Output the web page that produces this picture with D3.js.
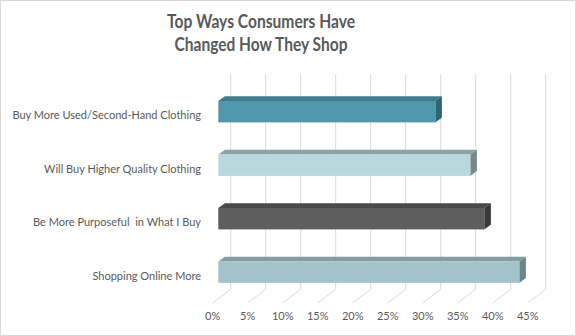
<!DOCTYPE html>
<html><head><meta charset="utf-8">
<script src="https://cdn.jsdelivr.net/npm/d3@7"></script>
<style>html,body{margin:0;padding:0;background:#fff;}svg{display:block;}</style>
</head><body>
<svg id="chart" width="576" height="336"></svg>
<script>
const titleLines = ["Top Ways Consumers Have", "Changed How They Shop"];
const categories = ["Buy More Used/Second-Hand Clothing", "Will Buy Higher Quality Clothing", "Be More Purposeful  in What I Buy", "Shopping Online More"];
const values = [31, 36, 38, 43];
const tickValues = [0, 5, 10, 15, 20, 25, 30, 35, 40, 45];
const frontColors = ["#4f97aa", "#b9d8de", "#5e5e5e", "#a3c4ca"];
const topColors = ["#3f7b8a", "#8ca2a6", "#4a4a4a", "#809da1"];
const sideColors = ["#2f6572", "#78898c", "#383838", "#6b868a"];

const svg = d3.select("#chart");
const textColor = "#595959";
const font = "Lato, 'Open Sans', sans-serif";

svg.append("rect").attr("x",0.5).attr("y",0.5).attr("width",575).attr("height",335)
  .attr("fill","#fff").attr("stroke","#d9d9d9");

// title
const tw = [188, 173];
svg.selectAll("text.title").data(titleLines).join("text").attr("class","title")
  .attr("x",261).attr("y",(d,i)=>28.3+i*22.7).attr("text-anchor","middle")
  .attr("font-family",font).attr("font-weight","bold").attr("font-size",18)
  .attr("fill",textColor).attr("textLength",(d,i)=>tw[i]).attr("lengthAdjust","spacingAndGlyphs")
  .text(d=>d);

const x = d3.scaleLinear().domain([0,45]).range([0,315]);
const backX0 = 230.7, wallTop = 74.5, wallBottom = 289.3;
const floorDX = -18, floorDY = 13.7;
const barX0 = 218.3;
const depthDX = 6.6, depthDY = -4.8;

const y = d3.scaleBand().domain(categories).range([101, 282.9]).paddingInner(0.6).paddingOuter(0);

// back wall gridlines
svg.append("g").selectAll("line").data(tickValues).join("line")
  .attr("x1",d=>backX0+x(d)).attr("x2",d=>backX0+x(d))
  .attr("y1",wallTop).attr("y2",wallBottom)
  .attr("stroke","#d9d9d9").attr("stroke-width",1);
// floor lines
svg.append("g").selectAll("line").data(tickValues).join("line")
  .attr("x1",d=>backX0+x(d)).attr("x2",d=>backX0+x(d)+floorDX)
  .attr("y1",wallBottom).attr("y2",wallBottom+floorDY)
  .attr("stroke","#d9d9d9").attr("stroke-width",1);

// tick labels
svg.append("g").selectAll("text").data(tickValues).join("text")
  .attr("x",d=>backX0+floorDX+x(d)).attr("y",320.3).attr("text-anchor","middle")
  .attr("font-family",font).attr("font-size",11).attr("fill",textColor)
  .text(d=>d+"%");

// bars
const bars = svg.append("g").selectAll("g").data(categories).join("g");
bars.each(function(c,i){
  const g = d3.select(this);
  const x0 = barX0, x1 = barX0 + x(values[i]);
  const y0 = y(c), y1 = y(c) + y.bandwidth();
  // top face
  g.append("path").attr("d",`M${x0},${y0}L${x0+depthDX},${y0+depthDY}L${x1+depthDX},${y0+depthDY}L${x1},${y0}Z`)
    .attr("fill",topColors[i]);
  // side face
  g.append("path").attr("d",`M${x1},${y0}L${x1+depthDX},${y0+depthDY}L${x1+depthDX},${y1+depthDY}L${x1},${y1}Z`)
    .attr("fill",sideColors[i]);
  // front face
  g.append("rect").attr("x",x0).attr("y",y0).attr("width",x1-x0).attr("height",y1-y0)
    .attr("fill",frontColors[i]);
});

// category labels
svg.append("g").selectAll("text").data(categories).join("text")
  .attr("x",201).attr("y",d=>y(d)+y.bandwidth()/2+7.5).attr("text-anchor","end")
  .attr("font-family",font).attr("font-size",11).attr("fill",textColor)
  .style("white-space","pre").attr("xml:space","preserve")
  .text(d=>d);
</script>
</body></html>
